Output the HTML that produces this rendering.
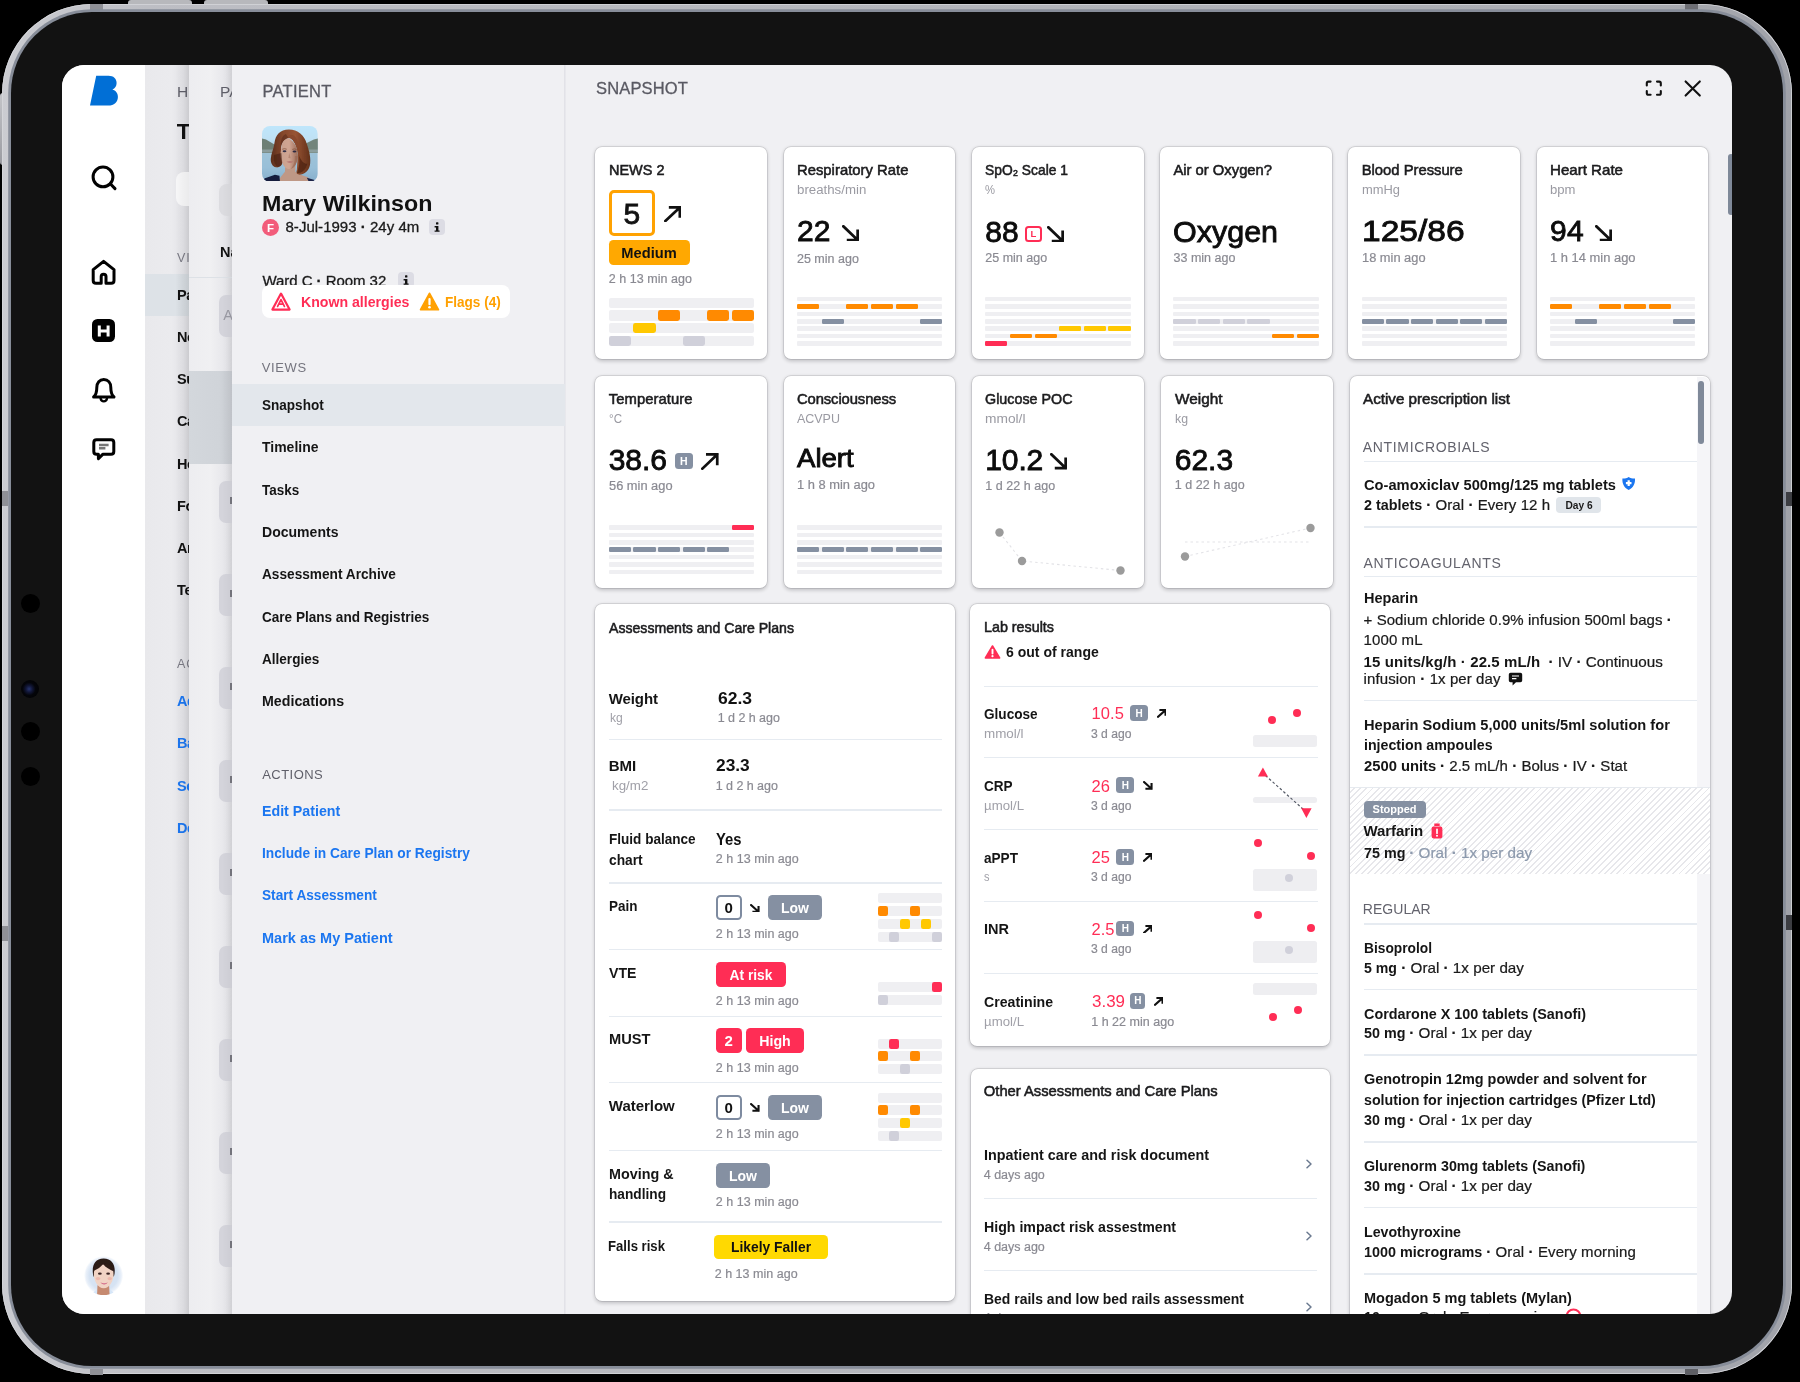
<!DOCTYPE html>
<html><head><meta charset="utf-8"><title>Snapshot</title><style>
html,body{margin:0;padding:0;background:#000;}
body{width:1800px;height:1382px;position:relative;overflow:hidden;font-family:"Liberation Sans",sans-serif;color:#111;}
div,svg{position:absolute;box-sizing:border-box;}
.t{white-space:nowrap;opacity:.999;}
.card{background:#fff;border-radius:7px;box-shadow:0 0 0 .7px rgba(20,20,25,.12),0 1.5px 4px rgba(15,15,20,.23);}
</style></head><body>
<div style="left:128px;top:0;width:64px;height:8px;background:#b7b8bc;border-radius:3px 3px 0 0"></div>
<div style="left:204px;top:0;width:64px;height:8px;background:#b7b8bc;border-radius:3px 3px 0 0"></div>
<div style="left:0;top:93px;width:6px;height:72px;background:linear-gradient(#c4c5c9,#9a9ba1);border-radius:3px 0 0 3px"></div>
<div style="left:2px;top:4.2px;width:1789.8px;height:1370.3px;border-radius:90px;background:linear-gradient(90deg,#cbccd1 0%,#bdbec4 8%,#b3b5bb 50%,#a9abb1 92%,#a0a2a9 100%);box-shadow:inset 0 0 0 .8px #d6d7db"></div>
<div style="left:90px;top:4.2px;width:13px;height:5.5px;background:#8f9096"></div>
<div style="left:1685px;top:4.2px;width:13px;height:5.5px;background:#6d6e74"></div>
<div style="left:90px;top:1369px;width:13px;height:5.5px;background:#8f9096"></div>
<div style="left:1685px;top:1369px;width:13px;height:5.5px;background:#5e5f65"></div>
<div style="left:2px;top:491.2px;width:6.2px;height:14.4px;background:#8f9096"></div>
<div style="left:2px;top:926.4px;width:6.2px;height:14.5px;background:#8f9096"></div>
<div style="left:1786px;top:491.5px;width:5.8px;height:14.3px;background:#3c3d42"></div>
<div style="left:1786px;top:915px;width:5.8px;height:14.7px;background:#3c3d42"></div>
<div style="left:10.9px;top:11.700px;width:1772.3px;height:1354.5px;border-radius:81px;background:#121212;box-shadow:0 0 0 2.800px #878d99"></div>
<div style="left:20.5px;top:593.5px;width:19px;height:19px;border-radius:50%;background:#000"></div>
<div style="left:20.5px;top:722px;width:19px;height:19px;border-radius:50%;background:#000"></div>
<div style="left:20.5px;top:766.5px;width:19px;height:19px;border-radius:50%;background:#000"></div>
<div style="left:21px;top:679.6px;width:18px;height:18px;border-radius:50%;background:radial-gradient(circle at 45% 50%,#27346e 0,#111636 25%,#04050a 48%,#000 100%)"></div>
<div id="screen" style="left:62px;top:65px;width:1670px;height:1249px;border-radius:22px;overflow:hidden;background:#f0f0f3"><div style="left:-62px;top:-65px;width:1800px;height:1382px;opacity:.999">
<div style="left:62px;top:65px;width:83px;height:1249px;background:#fff;"></div>
<svg style="left:88px;top:74px" width="32" height="34" viewBox="0 0 32 34"><path fill="#006fd6" d="M8.2 1.8 H20.5 C25.4 1.8 28.6 4.6 28.6 8.9 C28.6 12 27 14.4 24.4 15.6 C27.8 16.6 29.9 19.3 29.9 23 C29.9 28.2 26 31.6 20.3 31.6 H2 Z"/></svg>
<svg style="left:88px;top:162px" width="32" height="32" viewBox="0 0 32 32" fill="none" stroke="#000" stroke-width="3" stroke-linecap="round"><circle cx="15" cy="14.9" r="9.9"/><path d="M22.3 21.8 L27 26.6"/></svg>
<svg style="left:88px;top:256px" width="32" height="32" viewBox="0 0 32 32" fill="none" stroke="#000" stroke-width="3" stroke-linejoin="round" stroke-linecap="round"><path d="M13.2 27.2 H8 Q5.2 27.2 5.2 24.4 V13.6 L15.6 5.4 L26 13.6 V24.4 Q26 27.2 23.2 27.2 H18 V20.6 Q18 18.2 15.6 18.2 Q13.2 18.2 13.2 20.6 Z"/></svg>
<div style="left:92px;top:319.2px;width:23.4px;height:23.2px;background:#000;border-radius:5.5px;"></div>
<svg style="left:92px;top:319.2px" width="23.4" height="23.2" viewBox="0 0 23.4 23.2" fill="none" stroke="#fff" stroke-width="3"><path d="M7.3 6.4 V17.5 M16.1 6.4 V17.5 M7.3 12 H16.1"/></svg>
<svg style="left:88px;top:374px" width="32" height="32" viewBox="0 0 32 32" fill="none" stroke="#000" stroke-width="3" stroke-linejoin="round" stroke-linecap="round"><path d="M5.6 23 C8.6 20.6 8.8 17.6 8.8 13.6 C8.8 8.6 11.6 5.6 15.8 5.6 C20 5.6 22.8 8.6 22.8 13.6 C22.8 17.6 23 20.6 26 23 Z"/><path d="M12.6 24.6 C13 26.4 14.2 27.4 15.8 27.4 C17.4 27.4 18.6 26.4 19 24.6" stroke-width="2.4"/></svg>
<svg style="left:88px;top:434px" width="32" height="32" viewBox="0 0 32 32" fill="none" stroke="#000" stroke-width="3" stroke-linejoin="round"><path d="M8.6 5.8 H23 Q25.8 5.8 25.8 8.6 V17.4 Q25.8 20.2 23 20.2 H15 L10.4 24.6 V20.2 H8.6 Q5.8 20.2 5.8 17.4 V8.6 Q5.8 5.8 8.6 5.8 Z"/><path d="M11 11 H20.6 M11 14.2 H17.4" stroke="#777" stroke-width="2.6"/></svg>
<svg style="left:84.4px;top:1256.1px" width="39.2" height="39.2" viewBox="0 0 39 39">
<defs><clipPath id="uc"><circle cx="19.500" cy="19.500" r="19.500"/></clipPath>
<radialGradient id="ubg" cx=".5" cy=".5" r=".5"><stop offset="0" stop-color="#d3e2f3"/><stop offset=".72" stop-color="#d6e3f3"/><stop offset=".9" stop-color="#e9f0f9"/><stop offset="1" stop-color="#fff"/></radialGradient>
<filter id="ub" x="-10%" y="-10%" width="120%" height="120%"><feGaussianBlur stdDeviation=".75"/></filter></defs>
<g clip-path="url(#uc)"><rect width="39" height="39" fill="url(#ubg)"/>
<g filter="url(#ub)">
<path d="M6 39 L13 33 L26 33 L32 39 Z" fill="#d6e6f8"/>
<path d="M13.400 29 L13 39 L25.500 39 L25 29 Z" fill="#c68a70"/>
<path d="M19.500 2.400 C12 2.400 8.700 8 8.700 14 C8.700 17 9 19 9.800 21 L12 14 L27.500 14 L29.500 21 C30.300 19 30.600 17 30.600 14 C30.600 8 27 2.400 19.500 2.400 Z" fill="#2a1a18"/>
<path d="M9.800 18 C9.800 11 14 8.500 19.600 8.500 C25.500 8.500 29.400 11 29.400 18 C29.400 25 25.500 32.200 19.600 32.200 C13.800 32.200 9.800 25 9.800 18 Z" fill="#f1d3c4"/>
<path d="M9.300 15 C10 9.500 14 6.500 19 8 C17 11 13.500 13 9.300 15 Z M19 8 C24 6.500 29 9.500 29.800 15.500 C25.500 13.500 21.500 11.500 19 8 Z" fill="#2e1c19"/>
<ellipse cx="15.800" cy="17.600" rx="1.900" ry="1.100" fill="#3a2424"/><ellipse cx="24" cy="17.600" rx="1.900" ry="1.100" fill="#3a2424"/>
<ellipse cx="14" cy="22.500" rx="2.200" ry="1.600" fill="#ecb3a8" opacity=".8"/><ellipse cx="25.600" cy="22.500" rx="2.200" ry="1.600" fill="#ecb3a8" opacity=".8"/>
<path d="M16.300 26.300 Q20 27.300 23.800 26.300 Q20 30.300 16.300 26.300 Z" fill="#cf5f7c"/>
<path d="M17.600 26.900 Q20 27.400 22.500 26.900 Q20 28 17.600 26.900 Z" fill="#fbeef0"/>
</g></g></svg>
<div class="p1" style="left:145px;top:65px;width:44px;height:1249px;background:linear-gradient(90deg,#e9e9ec 0,#ebebee 60%,#e2e2e6 88%,#d6d6da 100%);overflow:hidden;"></div>
<div style="left:145px;top:273.9px;width:44px;height:42.2px;background:linear-gradient(90deg,#dde2e7 0,#dde2e7 70%,#cfd4d9 100%);"></div>
<div style="left:176px;top:171.7px;width:30px;height:34px;background:#f7f7f8;border-radius:8px;"></div>
<div style="left:145px;top:65px;width:44px;height:1249px;overflow:hidden"><div style="left:-145px;top:-65px;width:400px;height:1382px">
<div class="t" style="left:177px;top:82.43px;font-size:15.5px;line-height:20px;color:#5f5f69;">HOME</div>
<div class="t" style="left:176.7px;top:116.6px;font-size:22.5px;line-height:29px;font-weight:700;">Today</div>
<div class="t" style="left:177px;top:250.27px;font-size:12.5px;line-height:16px;color:#7a7a84;letter-spacing:1px;">VIEWS</div>
<div class="t" style="left:177px;top:285.78px;font-size:14.5px;line-height:19px;font-weight:700;letter-spacing:-.4px;">Patients</div>
<div class="t" style="left:177px;top:327.98px;font-size:14.5px;line-height:19px;font-weight:700;letter-spacing:-.4px;">Notes</div>
<div class="t" style="left:177px;top:370.18px;font-size:14.5px;line-height:19px;font-weight:700;letter-spacing:-.4px;">Summary</div>
<div class="t" style="left:177px;top:412.38px;font-size:14.5px;line-height:19px;font-weight:700;letter-spacing:-.4px;">Care</div>
<div class="t" style="left:177px;top:454.58px;font-size:14.5px;line-height:19px;font-weight:700;letter-spacing:-.4px;">Home</div>
<div class="t" style="left:177px;top:496.78px;font-size:14.5px;line-height:19px;font-weight:700;letter-spacing:-.4px;">Forms</div>
<div class="t" style="left:177px;top:538.98px;font-size:14.5px;line-height:19px;font-weight:700;letter-spacing:-.4px;">Archive</div>
<div class="t" style="left:177px;top:581.18px;font-size:14.5px;line-height:19px;font-weight:700;letter-spacing:-.4px;">Team</div>
<div class="t" style="left:177px;top:655.67px;font-size:12.5px;line-height:16px;color:#7a7a84;letter-spacing:1px;">ACTIONS</div>
<div class="t" style="left:177px;top:691.98px;font-size:14.5px;line-height:19px;font-weight:700;color:#1b76f0;letter-spacing:-.4px;">Add</div>
<div class="t" style="left:177px;top:734.28px;font-size:14.5px;line-height:19px;font-weight:700;color:#1b76f0;letter-spacing:-.4px;">Bar</div>
<div class="t" style="left:177px;top:776.58px;font-size:14.5px;line-height:19px;font-weight:700;color:#1b76f0;letter-spacing:-.4px;">Sea</div>
<div class="t" style="left:177px;top:818.88px;font-size:14.5px;line-height:19px;font-weight:700;color:#1b76f0;letter-spacing:-.4px;">Del</div>
</div></div>
<div style="left:175px;top:65px;width:14px;height:1249px;background:linear-gradient(90deg,rgba(0,0,0,0),rgba(0,0,0,.05));"></div>
<div style="left:189px;top:65px;width:43px;height:1249px;background:linear-gradient(90deg,#ededf0 0,#f0f0f2 50%,#e6e6ea 86%,#d8d8dc 100%);"></div>
<div style="left:189px;top:277.2px;width:43px;height:1px;background:#dde1e6;"></div>
<div style="left:189px;top:371px;width:43px;height:93px;background:linear-gradient(90deg,#d3d7dc 0,#d0d4d9 70%,#c6c9cf 100%);"></div>
<div style="left:189px;top:65px;width:43px;height:1249px;overflow:hidden"><div style="left:-189px;top:-65px;width:400px;height:1382px">
<div class="t" style="left:220px;top:82.43px;font-size:15.5px;line-height:20px;color:#5f5f69;">PATIENTS</div>
<div class="t" style="left:220px;top:243.28px;font-size:14.5px;line-height:19px;font-weight:700;">Name</div>
<div style="left:219.4px;top:184.4px;width:30px;height:32px;background:#dcdce0;border-radius:8px;"></div>
<div style="left:219.4px;top:295px;width:30px;height:42px;background:#d4d4db;border-radius:7px;"></div>
<div class="t" style="left:223.3px;top:306.48px;font-size:14.5px;line-height:19px;color:#9a9aa4;">A</div>
<div style="left:219.4px;top:481px;width:30px;height:42px;background:#d4d4db;border-radius:7px;"></div>
<div style="left:230.2px;top:497px;width:1.8px;height:7px;background:#77777f;"></div>
<div style="left:219.4px;top:574px;width:30px;height:42px;background:#d4d4db;border-radius:7px;"></div>
<div style="left:230.2px;top:590px;width:1.8px;height:7px;background:#77777f;"></div>
<div style="left:219.4px;top:667px;width:30px;height:42px;background:#d4d4db;border-radius:7px;"></div>
<div style="left:230.2px;top:683px;width:1.8px;height:7px;background:#77777f;"></div>
<div style="left:219.4px;top:760px;width:30px;height:42px;background:#d4d4db;border-radius:7px;"></div>
<div style="left:230.2px;top:776px;width:1.8px;height:7px;background:#77777f;"></div>
<div style="left:219.4px;top:853px;width:30px;height:42px;background:#d4d4db;border-radius:7px;"></div>
<div style="left:230.2px;top:869px;width:1.8px;height:7px;background:#77777f;"></div>
<div style="left:219.4px;top:946px;width:30px;height:42px;background:#d4d4db;border-radius:7px;"></div>
<div style="left:230.2px;top:962px;width:1.8px;height:7px;background:#77777f;"></div>
<div style="left:219.4px;top:1039px;width:30px;height:42px;background:#d4d4db;border-radius:7px;"></div>
<div style="left:230.2px;top:1055px;width:1.8px;height:7px;background:#77777f;"></div>
<div style="left:219.4px;top:1132px;width:30px;height:42px;background:#d4d4db;border-radius:7px;"></div>
<div style="left:230.2px;top:1148px;width:1.8px;height:7px;background:#77777f;"></div>
<div style="left:219.4px;top:1225px;width:30px;height:42px;background:#d4d4db;border-radius:7px;"></div>
<div style="left:230.2px;top:1241px;width:1.8px;height:7px;background:#77777f;"></div>
</div></div>
<div style="left:222px;top:65px;width:10px;height:1249px;background:linear-gradient(90deg,rgba(0,0,0,0),rgba(0,0,0,.035));"></div>
<div style="left:232px;top:65px;width:333px;height:1249px;background:#f0f0f3;"></div>
<div style="left:564.3px;top:65px;width:2.1px;height:1249px;background:linear-gradient(90deg,#e4e4e9,#e0e0e6 60%,#f5f5f7);"></div>
<div class="t" style="left:262.5px;top:81.48px;font-size:16.5px;line-height:21px;color:#595962;letter-spacing:0.25px;-webkit-text-stroke:0.3px currentColor;">PATIENT</div>
<svg style="left:262.1px;top:125.6px" width="55.8" height="55.8" viewBox="0 0 56 56">
<defs><clipPath id="pc"><rect width="56" height="56" rx="8"/></clipPath>
<linearGradient id="psky" x1="0" y1="0" x2="0" y2="1"><stop offset="0" stop-color="#bfe6fb"/><stop offset=".24" stop-color="#bfe1f4"/><stop offset=".46" stop-color="#9fc3d8"/><stop offset=".75" stop-color="#98bfd8"/><stop offset="1" stop-color="#86aecb"/></linearGradient>
<linearGradient id="phair" x1="0" y1="0" x2="1" y2="0"><stop offset="0" stop-color="#5c2e1c"/><stop offset=".3" stop-color="#84472c"/><stop offset=".62" stop-color="#985434"/><stop offset="1" stop-color="#62301a"/></linearGradient>
<linearGradient id="pface" x1="0" y1="0" x2="1" y2="0"><stop offset="0" stop-color="#c9a08e"/><stop offset=".5" stop-color="#d0a592"/><stop offset="1" stop-color="#9c6b58"/></linearGradient>
<filter id="pb" x="-10%" y="-10%" width="120%" height="120%"><feGaussianBlur stdDeviation=".7"/></filter></defs>
<g clip-path="url(#pc)"><rect width="56" height="56" fill="url(#psky)"/>
<g filter="url(#pb)">
<path d="M-2 12 L4 13.500 L15 20 L15 27 L-2 27 Z" fill="#6e7f75"/>
<path d="M58 12 L52 13.500 L43 18 L43 27 L58 27 Z" fill="#73857b"/>
<path d="M-2 23.500 H58 V26.500 H-2 Z" fill="#93a5a8" opacity=".8"/>
<path d="M23.500 38 L23 46 C21 49 18 51 16.500 56 L50 56 L46 51.500 C41 49.500 35.500 48.500 33.500 46 L33.500 38 Z" fill="#bf9886"/>
<path d="M-2 56 L3 52.500 L13 49 L17.500 50 L18 56 Z" fill="#121b3c"/>
<path d="M45 52 L52 54 L54 56 L47 56 Z" fill="#1a2446"/>
<path d="M27 3.600 C18 3.600 13.500 9.500 12.500 17 C11.800 23 9 28 8.800 33 C8.600 37 10.500 40.500 14 41.500 C17.500 42 20 40 20.500 37 L19 22 C20 15 24 12 29 11.500 C33 16 35.500 21 36 28 L35 44 C34 46.500 34.500 48.500 37 48.800 C42 49 46.500 46 48 40 C49.500 33 47.500 25 45 18 C42.500 9.500 36 3.600 27 3.600 Z" fill="url(#phair)"/>
<path d="M19.200 23 C19.500 16 22.500 13 26.500 12 C31 14.500 35.500 20 36 29 C36 36 33 43.200 27.500 43.200 C22 43.200 18.500 35 18.500 28 Z" fill="url(#pface)"/>
<path d="M26.500 12 C30 12 34 17 36.200 27 C38 22 37 14 32 9.500 C29 8.500 26 9.500 24.500 11.500 Z" fill="#8a4a2d"/>
<path d="M36 26 C38 31 38.500 38 35 47.500 C40 48 44 44 45.500 38 C41 38 38 33 36 26 Z" fill="#4e2313" opacity=".75"/>
<path d="M12 29 C11.500 35 12.500 39 15.500 40.800 C18 41.200 19.800 39.500 20.300 37 L19.400 27 Z" fill="#4a2214" opacity=".65"/>
<path d="M24 8 C20 9.500 18.500 14 18.800 22 C20 16 22.500 13 26.500 12 Z" fill="#5a2c1a" opacity=".6"/>
<ellipse cx="22.600" cy="25.300" rx="1.900" ry="1" fill="#34304a"/><ellipse cx="32.600" cy="25.500" rx="1.900" ry="1" fill="#2f2a40"/>
<path d="M20.300 23.300 Q22.600 22.300 24.800 23.300 M30.400 23.500 Q32.600 22.500 34.600 23.500" stroke="#7a4a36" stroke-width=".7" fill="none"/>
<path d="M27.300 27 L26.500 32 L28.800 32.300 Z" fill="#b0826f" opacity=".85"/>
<path d="M24.600 35.800 Q28 34.800 31.400 35.800 Q28 37.800 24.600 35.800 Z" fill="#b26d6d"/>
<path d="M33 30 C33.500 35 32 40 28.500 43 C32.500 42.500 35.500 37 36 30 Z" fill="#9a6854" opacity=".6"/>
</g></g></svg>
<div class="t" style="left:262px;top:188.5px;font-size:22.5px;line-height:29px;font-weight:700;transform-origin:0 50%;transform:scaleX(1.034);">Mary Wilkinson</div>
<div style="left:262px;top:219px;width:17px;height:17px;background:#f25c7a;border-radius:9px;"></div>
<div class="t" style="left:270.5px;top:220.72px;font-size:11.5px;line-height:15px;font-weight:700;color:#fff;transform:translateX(-50%);">F</div>
<div class="t" style="left:285.5px;top:217.3px;font-size:15px;line-height:20px;color:#1a1a1a;letter-spacing:0.02px;-webkit-text-stroke:0.3px currentColor;">8-Jul-1993 <b>·</b> 24y 4m</div>
<div style="left:429.2px;top:219.2px;width:16px;height:16px;background:#dcdce4;border-radius:4px;"></div>
<svg style="left:429.2px;top:219.2px" width="16" height="16" viewBox="0 0 16 16" fill="#111"><rect x="7" y="3.2" width="2.4" height="2.4" rx=".6"/><path d="M5.6 7 H9.4 V11.4 H10.6 V12.8 H5.6 V11.4 H7 V8.4 H5.6 Z"/></svg>
<div class="t" style="left:262.5px;top:270.6px;font-size:15px;line-height:20px;color:#1a1a1a;letter-spacing:-0.05px;-webkit-text-stroke:0.3px currentColor;">Ward C <b>·</b> Room 32</div>
<div style="left:397.5px;top:271.7px;width:16px;height:16px;background:#dcdce4;border-radius:4px;"></div>
<svg style="left:397.5px;top:271.7px" width="16" height="16" viewBox="0 0 16 16" fill="#111"><rect x="7" y="3.2" width="2.4" height="2.4" rx=".6"/><path d="M5.6 7 H9.4 V11.4 H10.6 V12.8 H5.6 V11.4 H7 V8.4 H5.6 Z"/></svg>
<div style="left:262px;top:284.6px;width:248px;height:33px;background:#fff;border-radius:8px;"></div>
<svg style="left:270px;top:291px" width="22" height="21" viewBox="0 0 22 21" fill="none" stroke="#ff2d55" stroke-width="2.2" stroke-linejoin="round"><path d="M11 2.6 L19.6 18.6 H2.4 Z"/><path d="M7.6 15.4 L11 8.6 L14.4 15.4 M8.9 13.2 H13.1" stroke-width="1.7" stroke-linecap="round"/></svg>
<div class="t" style="left:300.9px;top:292.3px;font-size:15px;line-height:20px;font-weight:700;color:#ff2d55;transform-origin:0 50%;transform:scaleX(0.942);">Known allergies</div>
<svg style="left:419px;top:290.5px" width="21" height="21" viewBox="0 0 21 21"><path d="M10.5 2.4 L19.4 18.6 H1.6 Z" fill="#ffa000" stroke="#ffa000" stroke-width="1.8" stroke-linejoin="round"/><path d="M10.5 8 V13.2" stroke="#fff" stroke-width="2.2" stroke-linecap="round"/><circle cx="10.5" cy="16.2" r="1.3" fill="#fff"/></svg>
<div class="t" style="left:445.3px;top:292.3px;font-size:15px;line-height:20px;font-weight:700;color:#ffa000;transform-origin:0 50%;transform:scaleX(0.903);">Flags (4)</div>
<div class="t" style="left:261.8px;top:359.4px;font-size:13px;line-height:17px;color:#74747e;letter-spacing:0.62px;">VIEWS</div>
<div style="left:232px;top:383.6px;width:333px;height:42px;background:#e3e7ec;"></div>
<div class="t" style="left:262px;top:395.1px;font-size:15px;line-height:20px;font-weight:700;color:#151515;transform-origin:0 50%;transform:scaleX(0.903);">Snapshot</div>
<div class="t" style="left:262px;top:437.4px;font-size:15px;line-height:20px;font-weight:700;color:#151515;transform-origin:0 50%;transform:scaleX(0.932);">Timeline</div>
<div class="t" style="left:262px;top:479.7px;font-size:15px;line-height:20px;font-weight:700;color:#151515;transform-origin:0 50%;transform:scaleX(0.898);">Tasks</div>
<div class="t" style="left:262px;top:522px;font-size:15px;line-height:20px;font-weight:700;color:#151515;transform-origin:0 50%;transform:scaleX(0.936);">Documents</div>
<div class="t" style="left:262px;top:564.3px;font-size:15px;line-height:20px;font-weight:700;color:#151515;transform-origin:0 50%;transform:scaleX(0.911);">Assessment Archive</div>
<div class="t" style="left:262px;top:606.6px;font-size:15px;line-height:20px;font-weight:700;color:#151515;transform-origin:0 50%;transform:scaleX(0.904);">Care Plans and Registries</div>
<div class="t" style="left:262px;top:648.9px;font-size:15px;line-height:20px;font-weight:700;color:#151515;transform-origin:0 50%;transform:scaleX(0.904);">Allergies</div>
<div class="t" style="left:262px;top:691.2px;font-size:15px;line-height:20px;font-weight:700;color:#151515;transform-origin:0 50%;transform:scaleX(0.948);">Medications</div>
<div class="t" style="left:262.2px;top:765.6px;font-size:13px;line-height:17px;color:#5f5f69;letter-spacing:0.46px;">ACTIONS</div>
<div class="t" style="left:262.2px;top:800.8px;font-size:15px;line-height:20px;font-weight:700;color:#1b76f0;transform-origin:0 50%;transform:scaleX(0.948);">Edit Patient</div>
<div class="t" style="left:262.2px;top:843.1px;font-size:15px;line-height:20px;font-weight:700;color:#1b76f0;transform-origin:0 50%;transform:scaleX(0.917);">Include in Care Plan or Registry</div>
<div class="t" style="left:262.2px;top:885.4px;font-size:15px;line-height:20px;font-weight:700;color:#1b76f0;transform-origin:0 50%;transform:scaleX(0.91);">Start Assessment</div>
<div class="t" style="left:262.2px;top:927.7px;font-size:15px;line-height:20px;font-weight:700;color:#1b76f0;transform-origin:0 50%;transform:scaleX(0.967);">Mark as My Patient</div>
<div class="t" style="left:596px;top:78.18px;font-size:16.5px;line-height:21px;color:#595962;letter-spacing:0.15px;-webkit-text-stroke:0.3px currentColor;">SNAPSHOT</div>
<svg style="left:1644px;top:79px" width="20" height="19" viewBox="0 0 20 19" fill="none" stroke="#111" stroke-width="2.1" stroke-linecap="round" stroke-linejoin="round"><path d="M2.8 6.4 V4.2 Q2.8 2.6 4.4 2.6 H6.6 M13 2.6 H15.2 Q16.8 2.6 16.8 4.2 V6.4 M16.8 12 V14.2 Q16.8 15.8 15.2 15.8 H13 M6.6 15.8 H4.4 Q2.8 15.8 2.8 14.2 V12"/></svg>
<svg style="left:1683px;top:79px" width="19" height="19" viewBox="0 0 19 19" fill="none" stroke="#111" stroke-width="2.1" stroke-linecap="round"><path d="M2.6 2.4 L16.8 16.6 M16.8 2.4 L2.6 16.6"/></svg>
<div style="left:1727.6px;top:154px;width:6px;height:61px;background:#7f8999;border-radius:3px;"></div>
<div class="card" style="left:595.4px;top:146.8px;width:171.6px;height:212px;"></div>
<div class="t" style="left:608.7px;top:161.17px;font-size:14.8px;line-height:19px;color:#1c1c1e;-webkit-text-stroke:0.55px currentColor;transform-origin:0 50%;transform:scaleX(0.978);">NEWS 2</div>
<div style="left:608.7px;top:189.8px;width:46.3px;height:46px;background:#fff;border-radius:5px;border:3.6px solid #ffa200;"></div>
<div class="t" style="left:631.8px;top:194.31px;font-size:30px;line-height:39px;-webkit-text-stroke:0.8px currentColor;transform:translateX(-50%);">5</div>
<svg style="left:664.2px;top:205.8px" width="17.2" height="16.4" viewBox="0 0 17.2 16.4" fill="none" stroke="#111" stroke-width="2.7" stroke-linecap="square" stroke-linejoin="miter"><path d="M1.35 15.05 L15.55 1.65 M6.19 1.35 H15.85 V10.5"/></svg>
<div style="left:608.7px;top:240.3px;width:81px;height:25px;background:#ffa800;border-radius:4.5px;"></div>
<div class="t" style="left:649.2px;top:243.1px;font-size:15px;line-height:20px;font-weight:700;transform:translateX(-50%) scaleX(0.978);">Medium</div>
<div class="t" style="left:608.7px;top:270.67px;font-size:12.5px;line-height:16px;color:#8a8a92;letter-spacing:0.04px;-webkit-text-stroke:0.2px currentColor;">2 h 13 min ago</div>
<div style="left:608.7px;top:297.5px;width:145.4px;height:10.4px;background:#efeff2;border-radius:2px;"></div>
<div style="left:608.7px;top:310.25px;width:145.4px;height:10.4px;background:#efeff2;border-radius:2px;"></div>
<div style="left:657.98px;top:310.25px;width:22.2px;height:10.4px;background:#ff8a00;border-radius:2.4px;"></div>
<div style="left:707.26px;top:310.25px;width:22.2px;height:10.4px;background:#ff8a00;border-radius:2.4px;"></div>
<div style="left:731.9px;top:310.25px;width:22.2px;height:10.4px;background:#ff8a00;border-radius:2.4px;"></div>
<div style="left:608.7px;top:323px;width:145.4px;height:10.4px;background:#efeff2;border-radius:2px;"></div>
<div style="left:633.34px;top:323px;width:22.2px;height:10.4px;background:#ffc800;border-radius:2.4px;"></div>
<div style="left:608.7px;top:335.75px;width:145.4px;height:10.4px;background:#efeff2;border-radius:2px;"></div>
<div style="left:608.7px;top:335.75px;width:22.2px;height:10.4px;background:#d0d0da;border-radius:2.4px;"></div>
<div style="left:682.62px;top:335.75px;width:22.2px;height:10.4px;background:#d0d0da;border-radius:2.4px;"></div>
<div class="card" style="left:783.66px;top:146.8px;width:171.6px;height:212px;"></div>
<div class="t" style="left:796.96px;top:161.17px;font-size:14.8px;line-height:19px;color:#1c1c1e;letter-spacing:0.03px;-webkit-text-stroke:0.55px currentColor;">Respiratory Rate</div>
<div class="t" style="left:796.96px;top:182.07px;font-size:12.5px;line-height:16px;color:#9a9aa2;transform-origin:0 50%;transform:scaleX(1.061);">breaths/min</div>
<div class="t" style="left:796.96px;top:211.41px;font-size:30px;line-height:39px;color:#0c0c0c;letter-spacing:0.21px;-webkit-text-stroke:0.85px currentColor;">22</div>
<div class="t" style="left:796.96px;top:250.97px;font-size:12.5px;line-height:16px;color:#8a8a92;letter-spacing:0.01px;-webkit-text-stroke:0.2px currentColor;">25 min ago</div>
<svg style="left:842.06px;top:225px" width="17" height="16.4" viewBox="0 0 17 16.4" fill="none" stroke="#111" stroke-width="2.7" stroke-linecap="square" stroke-linejoin="miter"><path d="M1.35 1.35 L15.35 14.75 M6.12 15.05 H15.65 V5.9"/></svg>
<div style="left:796.96px;top:296.8px;width:145.4px;height:4.6px;background:#efeff2;border-radius:1px;"></div>
<div style="left:796.96px;top:304.22px;width:145.4px;height:4.6px;background:#efeff2;border-radius:1px;"></div>
<div style="left:796.96px;top:304.22px;width:22.2px;height:4.6px;background:#ff8a00;border-radius:1.2px;"></div>
<div style="left:846.24px;top:304.22px;width:22.2px;height:4.6px;background:#ff8a00;border-radius:1.2px;"></div>
<div style="left:870.88px;top:304.22px;width:22.2px;height:4.6px;background:#ff8a00;border-radius:1.2px;"></div>
<div style="left:895.52px;top:304.22px;width:22.2px;height:4.6px;background:#ff8a00;border-radius:1.2px;"></div>
<div style="left:796.96px;top:311.64px;width:145.4px;height:4.6px;background:#efeff2;border-radius:1px;"></div>
<div style="left:796.96px;top:319.06px;width:145.4px;height:4.6px;background:#efeff2;border-radius:1px;"></div>
<div style="left:821.6px;top:319.06px;width:22.2px;height:4.6px;background:#8590a2;border-radius:1.2px;"></div>
<div style="left:920.16px;top:319.06px;width:22.2px;height:4.6px;background:#8590a2;border-radius:1.2px;"></div>
<div style="left:796.96px;top:326.48px;width:145.4px;height:4.6px;background:#efeff2;border-radius:1px;"></div>
<div style="left:796.96px;top:333.9px;width:145.4px;height:4.6px;background:#efeff2;border-radius:1px;"></div>
<div style="left:796.96px;top:341.32px;width:145.4px;height:4.6px;background:#efeff2;border-radius:1px;"></div>
<div class="card" style="left:971.92px;top:146.8px;width:171.6px;height:212px;"></div>
<div class="t" style="left:985.22px;top:161.17px;font-size:14.8px;line-height:19px;color:#1c1c1e;-webkit-text-stroke:0.55px currentColor;transform-origin:0 50%;transform:scaleX(0.934);">SpO₂ Scale 1</div>
<div class="t" style="left:985.22px;top:182.07px;font-size:12.5px;line-height:16px;color:#9a9aa2;transform-origin:0 50%;transform:scaleX(0.899);">%</div>
<div class="t" style="left:985.22px;top:212.1px;font-size:30px;line-height:39px;color:#0c0c0c;letter-spacing:0.21px;-webkit-text-stroke:0.85px currentColor;">88</div>
<div class="t" style="left:985.22px;top:250.27px;font-size:12.5px;line-height:16px;color:#8a8a92;letter-spacing:0.01px;-webkit-text-stroke:0.2px currentColor;">25 min ago</div>
<div style="left:1024.92px;top:225.8px;width:17px;height:16.7px;background:#fff;border-radius:3.5px;border:2px solid #ff2d55;"></div>
<div class="t" style="left:1033.42px;top:228.26px;font-size:9.5px;line-height:12px;font-weight:700;color:#ff2d55;transform:translateX(-50%);">L</div>
<svg style="left:1046.92px;top:225.8px" width="17" height="16.4" viewBox="0 0 17 16.4" fill="none" stroke="#111" stroke-width="2.7" stroke-linecap="square" stroke-linejoin="miter"><path d="M1.35 1.35 L15.35 14.75 M6.12 15.05 H15.65 V5.9"/></svg>
<div style="left:985.22px;top:296.8px;width:145.4px;height:4.6px;background:#efeff2;border-radius:1px;"></div>
<div style="left:985.22px;top:304.22px;width:145.4px;height:4.6px;background:#efeff2;border-radius:1px;"></div>
<div style="left:985.22px;top:311.64px;width:145.4px;height:4.6px;background:#efeff2;border-radius:1px;"></div>
<div style="left:985.22px;top:319.06px;width:145.4px;height:4.6px;background:#efeff2;border-radius:1px;"></div>
<div style="left:985.22px;top:326.48px;width:145.4px;height:4.6px;background:#efeff2;border-radius:1px;"></div>
<div style="left:1059.14px;top:326.48px;width:22.2px;height:4.6px;background:#ffc800;border-radius:1.2px;"></div>
<div style="left:1083.78px;top:326.48px;width:22.2px;height:4.6px;background:#ffc800;border-radius:1.2px;"></div>
<div style="left:1108.42px;top:326.48px;width:22.2px;height:4.6px;background:#ffc800;border-radius:1.2px;"></div>
<div style="left:985.22px;top:333.9px;width:145.4px;height:4.6px;background:#efeff2;border-radius:1px;"></div>
<div style="left:1009.86px;top:333.9px;width:22.2px;height:4.6px;background:#ff8a00;border-radius:1.2px;"></div>
<div style="left:1034.5px;top:333.9px;width:22.2px;height:4.6px;background:#ff8a00;border-radius:1.2px;"></div>
<div style="left:985.22px;top:341.32px;width:145.4px;height:4.6px;background:#efeff2;border-radius:1px;"></div>
<div style="left:985.22px;top:341.32px;width:22.2px;height:4.6px;background:#ff2d55;border-radius:1.2px;"></div>
<div class="card" style="left:1160.18px;top:146.8px;width:171.6px;height:212px;"></div>
<div class="t" style="left:1173.48px;top:161.17px;font-size:14.8px;line-height:19px;color:#1c1c1e;letter-spacing:-0.01px;-webkit-text-stroke:0.55px currentColor;">Air or Oxygen?</div>
<div class="t" style="left:1173.48px;top:211.71px;font-size:30px;line-height:39px;color:#0c0c0c;-webkit-text-stroke:0.85px currentColor;transform-origin:0 50%;transform:scaleX(1.016);">Oxygen</div>
<div class="t" style="left:1173.48px;top:250.47px;font-size:12.5px;line-height:16px;color:#8a8a92;letter-spacing:0.01px;-webkit-text-stroke:0.2px currentColor;">33 min ago</div>
<div style="left:1173.48px;top:296.8px;width:145.4px;height:4.6px;background:#efeff2;border-radius:1px;"></div>
<div style="left:1173.48px;top:304.22px;width:145.4px;height:4.6px;background:#efeff2;border-radius:1px;"></div>
<div style="left:1173.48px;top:311.64px;width:145.4px;height:4.6px;background:#efeff2;border-radius:1px;"></div>
<div style="left:1173.48px;top:319.06px;width:145.4px;height:4.6px;background:#efeff2;border-radius:1px;"></div>
<div style="left:1173.48px;top:319.06px;width:22.2px;height:4.6px;background:#d0d0da;border-radius:1.2px;"></div>
<div style="left:1198.12px;top:319.06px;width:22.2px;height:4.6px;background:#d0d0da;border-radius:1.2px;"></div>
<div style="left:1222.76px;top:319.06px;width:22.2px;height:4.6px;background:#d0d0da;border-radius:1.2px;"></div>
<div style="left:1247.4px;top:319.06px;width:22.2px;height:4.6px;background:#d0d0da;border-radius:1.2px;"></div>
<div style="left:1173.48px;top:326.48px;width:145.4px;height:4.6px;background:#efeff2;border-radius:1px;"></div>
<div style="left:1173.48px;top:333.9px;width:145.4px;height:4.6px;background:#efeff2;border-radius:1px;"></div>
<div style="left:1272.04px;top:333.9px;width:22.2px;height:4.6px;background:#ff8a00;border-radius:1.2px;"></div>
<div style="left:1296.68px;top:333.9px;width:22.2px;height:4.6px;background:#ff8a00;border-radius:1.2px;"></div>
<div style="left:1173.48px;top:341.32px;width:145.4px;height:4.6px;background:#efeff2;border-radius:1px;"></div>
<div class="card" style="left:1348.44px;top:146.8px;width:171.6px;height:212px;"></div>
<div class="t" style="left:1361.74px;top:161.17px;font-size:14.8px;line-height:19px;color:#1c1c1e;letter-spacing:-0.01px;-webkit-text-stroke:0.55px currentColor;">Blood Pressure</div>
<div class="t" style="left:1361.74px;top:182.07px;font-size:12.5px;line-height:16px;color:#9a9aa2;transform-origin:0 50%;transform:scaleX(1.032);">mmHg</div>
<div class="t" style="left:1361.74px;top:211.41px;font-size:30px;line-height:39px;color:#0c0c0c;-webkit-text-stroke:0.85px currentColor;transform-origin:0 50%;transform:scaleX(1.118);">125/86</div>
<div class="t" style="left:1361.74px;top:250.47px;font-size:12.5px;line-height:16px;color:#8a8a92;-webkit-text-stroke:0.2px currentColor;transform-origin:0 50%;transform:scaleX(1.027);">18 min ago</div>
<div style="left:1361.74px;top:296.8px;width:145.4px;height:4.6px;background:#efeff2;border-radius:1px;"></div>
<div style="left:1361.74px;top:304.22px;width:145.4px;height:4.6px;background:#efeff2;border-radius:1px;"></div>
<div style="left:1361.74px;top:311.64px;width:145.4px;height:4.6px;background:#efeff2;border-radius:1px;"></div>
<div style="left:1361.74px;top:319.06px;width:145.4px;height:4.6px;background:#efeff2;border-radius:1px;"></div>
<div style="left:1361.74px;top:319.06px;width:22.2px;height:4.6px;background:#8590a2;border-radius:1.2px;"></div>
<div style="left:1386.38px;top:319.06px;width:22.2px;height:4.6px;background:#8590a2;border-radius:1.2px;"></div>
<div style="left:1411.02px;top:319.06px;width:22.2px;height:4.6px;background:#8590a2;border-radius:1.2px;"></div>
<div style="left:1435.66px;top:319.06px;width:22.2px;height:4.6px;background:#8590a2;border-radius:1.2px;"></div>
<div style="left:1460.3px;top:319.06px;width:22.2px;height:4.6px;background:#8590a2;border-radius:1.2px;"></div>
<div style="left:1484.94px;top:319.06px;width:22.2px;height:4.6px;background:#8590a2;border-radius:1.2px;"></div>
<div style="left:1361.74px;top:326.48px;width:145.4px;height:4.6px;background:#efeff2;border-radius:1px;"></div>
<div style="left:1361.74px;top:333.9px;width:145.4px;height:4.6px;background:#efeff2;border-radius:1px;"></div>
<div style="left:1361.74px;top:341.32px;width:145.4px;height:4.6px;background:#efeff2;border-radius:1px;"></div>
<div class="card" style="left:1536.7px;top:146.8px;width:171.6px;height:212px;"></div>
<div class="t" style="left:1550px;top:161.17px;font-size:14.8px;line-height:19px;color:#1c1c1e;-webkit-text-stroke:0.55px currentColor;transform-origin:0 50%;transform:scaleX(1.02);">Heart Rate</div>
<div class="t" style="left:1550px;top:182.07px;font-size:12.5px;line-height:16px;color:#9a9aa2;transform-origin:0 50%;transform:scaleX(1.048);">bpm</div>
<div class="t" style="left:1550px;top:211.41px;font-size:30px;line-height:39px;color:#0c0c0c;letter-spacing:0.21px;-webkit-text-stroke:0.85px currentColor;">94</div>
<div class="t" style="left:1550px;top:250.47px;font-size:12.5px;line-height:16px;color:#8a8a92;-webkit-text-stroke:0.2px currentColor;transform-origin:0 50%;transform:scaleX(1.034);">1 h 14 min ago</div>
<svg style="left:1595.1px;top:225px" width="17" height="16.4" viewBox="0 0 17 16.4" fill="none" stroke="#111" stroke-width="2.7" stroke-linecap="square" stroke-linejoin="miter"><path d="M1.35 1.35 L15.35 14.75 M6.12 15.05 H15.65 V5.9"/></svg>
<div style="left:1550px;top:296.8px;width:145.4px;height:4.6px;background:#efeff2;border-radius:1px;"></div>
<div style="left:1550px;top:304.22px;width:145.4px;height:4.6px;background:#efeff2;border-radius:1px;"></div>
<div style="left:1550px;top:304.22px;width:22.2px;height:4.6px;background:#ff8a00;border-radius:1.2px;"></div>
<div style="left:1599.28px;top:304.22px;width:22.2px;height:4.6px;background:#ff8a00;border-radius:1.2px;"></div>
<div style="left:1623.92px;top:304.22px;width:22.2px;height:4.6px;background:#ff8a00;border-radius:1.2px;"></div>
<div style="left:1648.56px;top:304.22px;width:22.2px;height:4.6px;background:#ff8a00;border-radius:1.2px;"></div>
<div style="left:1550px;top:311.64px;width:145.4px;height:4.6px;background:#efeff2;border-radius:1px;"></div>
<div style="left:1550px;top:319.06px;width:145.4px;height:4.6px;background:#efeff2;border-radius:1px;"></div>
<div style="left:1574.64px;top:319.06px;width:22.2px;height:4.6px;background:#8590a2;border-radius:1.2px;"></div>
<div style="left:1673.2px;top:319.06px;width:22.2px;height:4.6px;background:#8590a2;border-radius:1.2px;"></div>
<div style="left:1550px;top:326.48px;width:145.4px;height:4.6px;background:#efeff2;border-radius:1px;"></div>
<div style="left:1550px;top:333.9px;width:145.4px;height:4.6px;background:#efeff2;border-radius:1px;"></div>
<div style="left:1550px;top:341.32px;width:145.4px;height:4.6px;background:#efeff2;border-radius:1px;"></div>
<div class="card" style="left:595.4px;top:375.9px;width:171.6px;height:212px;"></div>
<div class="t" style="left:608.7px;top:390.27px;font-size:14.8px;line-height:19px;color:#1c1c1e;letter-spacing:0.08px;-webkit-text-stroke:0.55px currentColor;">Temperature</div>
<div class="t" style="left:608.7px;top:411.17px;font-size:12.5px;line-height:16px;color:#9a9aa2;transform-origin:0 50%;transform:scaleX(0.927);">°C</div>
<div class="t" style="left:608.7px;top:439.81px;font-size:30px;line-height:39px;color:#0c0c0c;letter-spacing:-0.02px;-webkit-text-stroke:0.85px currentColor;">38.6</div>
<div class="t" style="left:608.7px;top:478.17px;font-size:12.5px;line-height:16px;color:#8a8a92;-webkit-text-stroke:0.2px currentColor;transform-origin:0 50%;transform:scaleX(1.027);">56 min ago</div>
<div style="left:675px;top:452.9px;width:17.8px;height:16.6px;background:#8590a2;border-radius:3.5px;"></div>
<div class="t" style="left:683.9px;top:454.34px;font-size:10.5px;line-height:14px;font-weight:700;color:#fff;transform:translateX(-50%);">H</div>
<svg style="left:701.4px;top:452.9px" width="17.6" height="17" viewBox="0 0 17.6 17" fill="none" stroke="#111" stroke-width="2.7" stroke-linecap="square" stroke-linejoin="miter"><path d="M1.35 15.65 L15.95 1.65 M6.34 1.35 H16.25 V10.88"/></svg>
<div style="left:608.7px;top:525.1px;width:145.4px;height:4.6px;background:#efeff2;border-radius:1px;"></div>
<div style="left:731.9px;top:525.1px;width:22.2px;height:4.6px;background:#ff2d55;border-radius:1.2px;"></div>
<div style="left:608.7px;top:532.52px;width:145.4px;height:4.6px;background:#efeff2;border-radius:1px;"></div>
<div style="left:608.7px;top:539.94px;width:145.4px;height:4.6px;background:#efeff2;border-radius:1px;"></div>
<div style="left:608.7px;top:547.36px;width:145.4px;height:4.6px;background:#efeff2;border-radius:1px;"></div>
<div style="left:608.7px;top:547.36px;width:22.2px;height:4.6px;background:#8590a2;border-radius:1.2px;"></div>
<div style="left:633.34px;top:547.36px;width:22.2px;height:4.6px;background:#8590a2;border-radius:1.2px;"></div>
<div style="left:657.98px;top:547.36px;width:22.2px;height:4.6px;background:#8590a2;border-radius:1.2px;"></div>
<div style="left:682.62px;top:547.36px;width:22.2px;height:4.6px;background:#8590a2;border-radius:1.2px;"></div>
<div style="left:707.26px;top:547.36px;width:22.2px;height:4.6px;background:#8590a2;border-radius:1.2px;"></div>
<div style="left:608.7px;top:554.78px;width:145.4px;height:4.6px;background:#efeff2;border-radius:1px;"></div>
<div style="left:608.7px;top:562.2px;width:145.4px;height:4.6px;background:#efeff2;border-radius:1px;"></div>
<div style="left:608.7px;top:569.62px;width:145.4px;height:4.6px;background:#efeff2;border-radius:1px;"></div>
<div class="card" style="left:783.66px;top:375.9px;width:171.6px;height:212px;"></div>
<div class="t" style="left:796.96px;top:390.27px;font-size:14.8px;line-height:19px;color:#1c1c1e;letter-spacing:-0.1px;-webkit-text-stroke:0.55px currentColor;">Consciousness</div>
<div class="t" style="left:796.96px;top:411.17px;font-size:12.5px;line-height:16px;color:#9a9aa2;letter-spacing:-0.02px;">ACVPU</div>
<div class="t" style="left:796.96px;top:442.04px;font-size:25px;line-height:32px;color:#0c0c0c;-webkit-text-stroke:0.85px currentColor;transform-origin:0 50%;transform:scaleX(1.103);">Alert</div>
<div class="t" style="left:796.96px;top:476.97px;font-size:12.5px;line-height:16px;color:#8a8a92;-webkit-text-stroke:0.2px currentColor;transform-origin:0 50%;transform:scaleX(1.03);">1 h 8 min ago</div>
<div style="left:796.96px;top:525.1px;width:145.4px;height:4.6px;background:#efeff2;border-radius:1px;"></div>
<div style="left:796.96px;top:532.52px;width:145.4px;height:4.6px;background:#efeff2;border-radius:1px;"></div>
<div style="left:796.96px;top:539.94px;width:145.4px;height:4.6px;background:#efeff2;border-radius:1px;"></div>
<div style="left:796.96px;top:547.36px;width:145.4px;height:4.6px;background:#efeff2;border-radius:1px;"></div>
<div style="left:796.96px;top:547.36px;width:22.2px;height:4.6px;background:#8590a2;border-radius:1.2px;"></div>
<div style="left:821.6px;top:547.36px;width:22.2px;height:4.6px;background:#8590a2;border-radius:1.2px;"></div>
<div style="left:846.24px;top:547.36px;width:22.2px;height:4.6px;background:#8590a2;border-radius:1.2px;"></div>
<div style="left:870.88px;top:547.36px;width:22.2px;height:4.6px;background:#8590a2;border-radius:1.2px;"></div>
<div style="left:895.52px;top:547.36px;width:22.2px;height:4.6px;background:#8590a2;border-radius:1.2px;"></div>
<div style="left:920.16px;top:547.36px;width:22.2px;height:4.6px;background:#8590a2;border-radius:1.2px;"></div>
<div style="left:796.96px;top:554.78px;width:145.4px;height:4.6px;background:#efeff2;border-radius:1px;"></div>
<div style="left:796.96px;top:562.2px;width:145.4px;height:4.6px;background:#efeff2;border-radius:1px;"></div>
<div style="left:796.96px;top:569.62px;width:145.4px;height:4.6px;background:#efeff2;border-radius:1px;"></div>
<div class="card" style="left:971.92px;top:375.9px;width:171.6px;height:212px;"></div>
<div class="t" style="left:985.22px;top:390.27px;font-size:14.8px;line-height:19px;color:#1c1c1e;-webkit-text-stroke:0.55px currentColor;transform-origin:0 50%;transform:scaleX(0.967);">Glucose POC</div>
<div class="t" style="left:985.22px;top:411.17px;font-size:12.5px;line-height:16px;color:#9a9aa2;transform-origin:0 50%;transform:scaleX(1.1);">mmol/l</div>
<div class="t" style="left:985.22px;top:440.4px;font-size:30px;line-height:39px;color:#0c0c0c;letter-spacing:-0.1px;-webkit-text-stroke:0.85px currentColor;">10.2</div>
<div class="t" style="left:985.22px;top:478.17px;font-size:12.5px;line-height:16px;color:#8a8a92;letter-spacing:0.04px;-webkit-text-stroke:0.2px currentColor;">1 d 22 h ago</div>
<svg style="left:1049.92px;top:453.4px" width="17" height="16.4" viewBox="0 0 17 16.4" fill="none" stroke="#111" stroke-width="2.7" stroke-linecap="square" stroke-linejoin="miter"><path d="M1.35 1.35 L15.35 14.75 M6.12 15.05 H15.65 V5.9"/></svg>
<svg style="left:971.92px;top:375.9px" width="172" height="212" viewBox="0 0 172 212"><path d="M27.5 156.5 L50 185 L148.5 194.5" fill="none" stroke="#e2e2e6" stroke-width="1.1" stroke-dasharray="2.5 3"/><g fill="#9b9b9b"><circle cx="27.5" cy="156.5" r="4.2"/><circle cx="50" cy="185" r="4.2"/><circle cx="148.5" cy="194.5" r="4.2"/></g></svg>
<div class="card" style="left:1161.38px;top:375.9px;width:171.6px;height:212px;"></div>
<div class="t" style="left:1174.68px;top:390.27px;font-size:14.8px;line-height:19px;color:#1c1c1e;-webkit-text-stroke:0.55px currentColor;transform-origin:0 50%;transform:scaleX(1.037);">Weight</div>
<div class="t" style="left:1174.68px;top:411.17px;font-size:12.5px;line-height:16px;color:#9a9aa2;transform-origin:0 50%;transform:scaleX(0.985);">kg</div>
<div class="t" style="left:1174.68px;top:440px;font-size:30px;line-height:39px;color:#0c0c0c;letter-spacing:0.03px;-webkit-text-stroke:0.85px currentColor;">62.3</div>
<div class="t" style="left:1174.68px;top:477.17px;font-size:12.5px;line-height:16px;color:#8a8a92;letter-spacing:0.04px;-webkit-text-stroke:0.2px currentColor;">1 d 22 h ago</div>
<svg style="left:1161.38px;top:375.9px" width="172" height="212" viewBox="0 0 172 212"><path d="M24 180.5 L149.5 152 M24 166 H149.5" fill="none" stroke="#e4e4e8" stroke-width="1.1" stroke-dasharray="2.5 3"/><g fill="#9b9b9b"><circle cx="24" cy="180.5" r="4.2"/><circle cx="149.5" cy="152" r="4.2"/></g></svg>
<div class="card" style="left:595.3px;top:604.2px;width:359.7px;height:697px;"></div>
<div class="t" style="left:608.8px;top:618.67px;font-size:14.8px;line-height:19px;color:#1c1c1e;-webkit-text-stroke:0.55px currentColor;transform-origin:0 50%;transform:scaleX(0.953);">Assessments and Care Plans</div>
<div style="left:608.8px;top:738.6px;width:333px;height:1.3px;background:#e6ebf1;"></div>
<div style="left:608.8px;top:809.4px;width:333px;height:1.3px;background:#e6ebf1;"></div>
<div style="left:608.8px;top:882.4px;width:333px;height:1.3px;background:#e6ebf1;"></div>
<div style="left:608.8px;top:949.1px;width:333px;height:1.3px;background:#e6ebf1;"></div>
<div style="left:608.8px;top:1015.8px;width:333px;height:1.3px;background:#e6ebf1;"></div>
<div style="left:608.8px;top:1082.2px;width:333px;height:1.3px;background:#e6ebf1;"></div>
<div style="left:608.8px;top:1150.1px;width:333px;height:1.3px;background:#e6ebf1;"></div>
<div style="left:608.8px;top:1221.4px;width:333px;height:1.3px;background:#e6ebf1;"></div>
<div class="t" style="left:608.8px;top:689px;font-size:15px;line-height:20px;font-weight:700;color:#151515;letter-spacing:-0.12px;">Weight</div>
<div class="t" style="left:609.7px;top:710.17px;font-size:12.5px;line-height:16px;color:#a0a0a8;transform-origin:0 50%;transform:scaleX(0.969);">kg</div>
<div class="t" style="left:717.8px;top:688.46px;font-size:16px;line-height:21px;font-weight:700;transform-origin:0 50%;transform:scaleX(1.092);">62.3</div>
<div class="t" style="left:717.8px;top:710.17px;font-size:12.5px;line-height:16px;color:#8a8a92;letter-spacing:-0.05px;-webkit-text-stroke:0.2px currentColor;">1 d 2 h ago</div>
<div class="t" style="left:608.8px;top:756.1px;font-size:15px;line-height:20px;font-weight:700;color:#151515;letter-spacing:-0.03px;">BMI</div>
<div class="t" style="left:611.7px;top:777.67px;font-size:12.5px;line-height:16px;color:#a0a0a8;transform-origin:0 50%;transform:scaleX(1.066);">kg/m2</div>
<div class="t" style="left:715.8px;top:755.46px;font-size:16px;line-height:21px;font-weight:700;transform-origin:0 50%;transform:scaleX(1.082);">23.3</div>
<div class="t" style="left:715.8px;top:777.67px;font-size:12.5px;line-height:16px;color:#8a8a92;letter-spacing:-0.05px;-webkit-text-stroke:0.2px currentColor;">1 d 2 h ago</div>
<div class="t" style="left:608.8px;top:829.3px;font-size:15px;line-height:20px;font-weight:700;color:#151515;transform-origin:0 50%;transform:scaleX(0.904);">Fluid balance</div>
<div class="t" style="left:608.8px;top:850.3px;font-size:15px;line-height:20px;font-weight:700;color:#151515;transform-origin:0 50%;transform:scaleX(0.919);">chart</div>
<div class="t" style="left:715.8px;top:829.16px;font-size:16px;line-height:21px;font-weight:700;transform-origin:0 50%;transform:scaleX(0.924);">Yes</div>
<div class="t" style="left:715.8px;top:851.37px;font-size:12.5px;line-height:16px;color:#8a8a92;letter-spacing:0.02px;-webkit-text-stroke:0.2px currentColor;">2 h 13 min ago</div>
<div class="t" style="left:608.8px;top:896px;font-size:15px;line-height:20px;font-weight:700;color:#151515;transform-origin:0 50%;transform:scaleX(0.896);">Pain</div>
<div style="left:715.5px;top:895.3px;width:26.3px;height:25px;background:#fff;border-radius:4.5px;border:2px solid #7e8ba0;"></div>
<div class="t" style="left:728.6px;top:898.1px;font-size:15px;line-height:20px;font-weight:700;transform:translateX(-50%);">0</div>
<svg style="left:750.3px;top:903.5px" width="9.6" height="8.8" viewBox="0 0 9.6 8.8" fill="none" stroke="#111" stroke-width="2.1" stroke-linecap="square" stroke-linejoin="miter"><path d="M1.05 1.05 L8.25 7.45 M3.46 7.75 H8.55 V3.17"/></svg>
<div style="left:767.8px;top:895.3px;width:54.2px;height:25px;background:#8590a2;border-radius:4.5px;"></div>
<div class="t" style="left:794.9px;top:898px;font-size:15px;line-height:20px;font-weight:700;color:#fff;transform:translateX(-50%) scaleX(0.933);">Low</div>
<div class="t" style="left:715.8px;top:926.37px;font-size:12.5px;line-height:16px;color:#8a8a92;letter-spacing:0.02px;-webkit-text-stroke:0.2px currentColor;">2 h 13 min ago</div>
<div style="left:877.9px;top:893.4px;width:64px;height:10px;background:#efeff2;border-radius:2px;"></div>
<div style="left:877.9px;top:906.2px;width:64px;height:10px;background:#efeff2;border-radius:2px;"></div>
<div style="left:877.9px;top:906.2px;width:10px;height:10px;background:#ff8a00;border-radius:2.2px;"></div>
<div style="left:910.3px;top:906.2px;width:10px;height:10px;background:#ff8a00;border-radius:2.2px;"></div>
<div style="left:877.9px;top:919px;width:64px;height:10px;background:#efeff2;border-radius:2px;"></div>
<div style="left:899.5px;top:919px;width:10px;height:10px;background:#ffc800;border-radius:2.2px;"></div>
<div style="left:921.1px;top:919px;width:10px;height:10px;background:#ffc800;border-radius:2.2px;"></div>
<div style="left:877.9px;top:931.8px;width:64px;height:10px;background:#efeff2;border-radius:2px;"></div>
<div style="left:888.7px;top:931.8px;width:10px;height:10px;background:#d0d0da;border-radius:2.2px;"></div>
<div style="left:931.9px;top:931.8px;width:10px;height:10px;background:#d0d0da;border-radius:2.2px;"></div>
<div class="t" style="left:608.8px;top:962.6px;font-size:15px;line-height:20px;font-weight:700;color:#151515;transform-origin:0 50%;transform:scaleX(0.939);">VTE</div>
<div style="left:715.5px;top:962px;width:70.3px;height:25px;background:#ff2d55;border-radius:4.5px;"></div>
<div class="t" style="left:750.65px;top:964.7px;font-size:15px;line-height:20px;font-weight:700;color:#fff;transform:translateX(-50%) scaleX(0.917);">At risk</div>
<div class="t" style="left:715.8px;top:992.67px;font-size:12.5px;line-height:16px;color:#8a8a92;letter-spacing:0.02px;-webkit-text-stroke:0.2px currentColor;">2 h 13 min ago</div>
<div style="left:877.9px;top:982.2px;width:64px;height:10px;background:#efeff2;border-radius:2px;"></div>
<div style="left:931.9px;top:982.2px;width:10px;height:10px;background:#ff2d55;border-radius:2.2px;"></div>
<div style="left:877.9px;top:995px;width:64px;height:10px;background:#efeff2;border-radius:2px;"></div>
<div style="left:877.9px;top:995px;width:10px;height:10px;background:#d0d0da;border-radius:2.2px;"></div>
<div class="t" style="left:608.8px;top:1029.3px;font-size:15px;line-height:20px;font-weight:700;color:#151515;transform-origin:0 50%;transform:scaleX(0.976);">MUST</div>
<div style="left:715.5px;top:1028.4px;width:26.4px;height:25px;background:#ff2d55;border-radius:4.5px;"></div>
<div class="t" style="left:728.7px;top:1031.1px;font-size:15px;line-height:20px;font-weight:700;color:#fff;transform:translateX(-50%);">2</div>
<div style="left:746.4px;top:1028.4px;width:58px;height:25px;background:#ff2d55;border-radius:4.5px;"></div>
<div class="t" style="left:775.4px;top:1031.1px;font-size:15px;line-height:20px;font-weight:700;color:#fff;transform:translateX(-50%) scaleX(0.945);">High</div>
<div class="t" style="left:715.8px;top:1059.67px;font-size:12.5px;line-height:16px;color:#8a8a92;letter-spacing:0.02px;-webkit-text-stroke:0.2px currentColor;">2 h 13 min ago</div>
<div style="left:877.9px;top:1038.5px;width:64px;height:10px;background:#efeff2;border-radius:2px;"></div>
<div style="left:888.7px;top:1038.5px;width:10px;height:10px;background:#ff2d55;border-radius:2.2px;"></div>
<div style="left:877.9px;top:1051.3px;width:64px;height:10px;background:#efeff2;border-radius:2px;"></div>
<div style="left:877.9px;top:1051.3px;width:10px;height:10px;background:#ff8a00;border-radius:2.2px;"></div>
<div style="left:910.3px;top:1051.3px;width:10px;height:10px;background:#ff8a00;border-radius:2.2px;"></div>
<div style="left:877.9px;top:1064.1px;width:64px;height:10px;background:#efeff2;border-radius:2px;"></div>
<div style="left:899.5px;top:1064.1px;width:10px;height:10px;background:#d0d0da;border-radius:2.2px;"></div>
<div class="t" style="left:608.8px;top:1095.8px;font-size:15px;line-height:20px;font-weight:700;color:#151515;letter-spacing:-0.02px;">Waterlow</div>
<div style="left:715.5px;top:1095.2px;width:26.3px;height:25px;background:#fff;border-radius:4.5px;border:2px solid #7e8ba0;"></div>
<div class="t" style="left:728.6px;top:1098px;font-size:15px;line-height:20px;font-weight:700;transform:translateX(-50%);">0</div>
<svg style="left:750.3px;top:1103.4px" width="9.6" height="8.8" viewBox="0 0 9.6 8.8" fill="none" stroke="#111" stroke-width="2.1" stroke-linecap="square" stroke-linejoin="miter"><path d="M1.05 1.05 L8.25 7.45 M3.46 7.75 H8.55 V3.17"/></svg>
<div style="left:767.6px;top:1095.2px;width:54.6px;height:24.8px;background:#8590a2;border-radius:4.5px;"></div>
<div class="t" style="left:794.9px;top:1097.8px;font-size:15px;line-height:20px;font-weight:700;color:#fff;transform:translateX(-50%) scaleX(0.933);">Low</div>
<div class="t" style="left:715.8px;top:1126.47px;font-size:12.5px;line-height:16px;color:#8a8a92;letter-spacing:0.02px;-webkit-text-stroke:0.2px currentColor;">2 h 13 min ago</div>
<div style="left:877.9px;top:1092.6px;width:64px;height:10px;background:#efeff2;border-radius:2px;"></div>
<div style="left:877.9px;top:1105.4px;width:64px;height:10px;background:#efeff2;border-radius:2px;"></div>
<div style="left:877.9px;top:1105.4px;width:10px;height:10px;background:#ff8a00;border-radius:2.2px;"></div>
<div style="left:910.3px;top:1105.4px;width:10px;height:10px;background:#ff8a00;border-radius:2.2px;"></div>
<div style="left:877.9px;top:1118.2px;width:64px;height:10px;background:#efeff2;border-radius:2px;"></div>
<div style="left:899.5px;top:1118.2px;width:10px;height:10px;background:#ffc800;border-radius:2.2px;"></div>
<div style="left:877.9px;top:1131px;width:64px;height:10px;background:#efeff2;border-radius:2px;"></div>
<div style="left:888.7px;top:1131px;width:10px;height:10px;background:#d0d0da;border-radius:2.2px;"></div>
<div class="t" style="left:608.8px;top:1164px;font-size:15px;line-height:20px;font-weight:700;color:#151515;transform-origin:0 50%;transform:scaleX(0.956);">Moving &amp;</div>
<div class="t" style="left:608.8px;top:1184.3px;font-size:15px;line-height:20px;font-weight:700;color:#151515;transform-origin:0 50%;transform:scaleX(0.912);">handling</div>
<div style="left:715.5px;top:1163px;width:54.2px;height:24.8px;background:#8590a2;border-radius:4.5px;"></div>
<div class="t" style="left:742.6px;top:1165.6px;font-size:15px;line-height:20px;font-weight:700;color:#fff;transform:translateX(-50%) scaleX(0.933);">Low</div>
<div class="t" style="left:715.8px;top:1193.67px;font-size:12.5px;line-height:16px;color:#8a8a92;letter-spacing:0.02px;-webkit-text-stroke:0.2px currentColor;">2 h 13 min ago</div>
<div class="t" style="left:607.8px;top:1235.8px;font-size:15px;line-height:20px;font-weight:700;color:#151515;transform-origin:0 50%;transform:scaleX(0.876);">Falls risk</div>
<div style="left:714.1px;top:1234.7px;width:113.6px;height:24.8px;background:#ffd900;border-radius:4.5px;"></div>
<div class="t" style="left:770.9px;top:1237.3px;font-size:15px;line-height:20px;font-weight:700;transform:translateX(-50%) scaleX(0.923);">Likely Faller</div>
<div class="t" style="left:714.7px;top:1265.87px;font-size:12.5px;line-height:16px;color:#8a8a92;letter-spacing:0.02px;-webkit-text-stroke:0.2px currentColor;">2 h 13 min ago</div>
<div class="card" style="left:970.4px;top:603.8px;width:359.8px;height:441.8px;"></div>
<div class="t" style="left:984.2px;top:618.37px;font-size:14.8px;line-height:19px;color:#1c1c1e;-webkit-text-stroke:0.55px currentColor;transform-origin:0 50%;transform:scaleX(0.967);">Lab results</div>
<svg style="left:983.6px;top:644px" width="17" height="16" viewBox="0 0 17 16"><path d="M8.5 2 L15.6 14 H1.4 Z" fill="#ff2d55" stroke="#ff2d55" stroke-width="1.6" stroke-linejoin="round"/><path d="M8.5 5.8 V9.6" stroke="#fff" stroke-width="1.9" stroke-linecap="round"/><circle cx="8.5" cy="12.2" r="1.1" fill="#fff"/></svg>
<div class="t" style="left:1005.5px;top:642.3px;font-size:15px;line-height:20px;font-weight:700;color:#151515;transform-origin:0 50%;transform:scaleX(0.936);">6 out of range</div>
<div style="left:984.2px;top:686.1px;width:333.4px;height:1.3px;background:#e6ebf1;"></div>
<div style="left:984.2px;top:757.2px;width:333.4px;height:1.3px;background:#e6ebf1;"></div>
<div style="left:984.2px;top:828.9px;width:333.4px;height:1.3px;background:#e6ebf1;"></div>
<div style="left:984.2px;top:900.7px;width:333.4px;height:1.3px;background:#e6ebf1;"></div>
<div style="left:984.2px;top:972.8px;width:333.4px;height:1.3px;background:#e6ebf1;"></div>
<div class="t" style="left:984.2px;top:704px;font-size:15px;line-height:20px;font-weight:700;color:#151515;transform-origin:0 50%;transform:scaleX(0.906);">Glucose</div>
<div class="t" style="left:984.2px;top:725.67px;font-size:12.5px;line-height:16px;color:#a0a0a8;transform-origin:0 50%;transform:scaleX(1.073);">mmol/l</div>
<div class="t" style="left:1091.5px;top:703.48px;font-size:16.5px;line-height:21px;color:#ff2d55;letter-spacing:0.09px;">10.5</div>
<div style="left:1130px;top:705.3px;width:18.2px;height:15.8px;background:#8590a2;border-radius:3.5px;"></div>
<div class="t" style="left:1139.1px;top:706.84px;font-size:10px;line-height:13px;font-weight:700;color:#fff;transform:translateX(-50%);">H</div>
<svg style="left:1156.7px;top:709.2px" width="9.6" height="8.8" viewBox="0 0 9.6 8.8" fill="none" stroke="#111" stroke-width="2.1" stroke-linecap="square" stroke-linejoin="miter"><path d="M1.05 7.75 L8.25 1.35 M3.46 1.05 H8.55 V5.63"/></svg>
<div class="t" style="left:1091.2px;top:725.67px;font-size:12.5px;line-height:16px;color:#8a8a92;-webkit-text-stroke:0.2px currentColor;transform-origin:0 50%;transform:scaleX(0.971);">3 d ago</div>
<div class="t" style="left:984.2px;top:776.1px;font-size:15px;line-height:20px;font-weight:700;color:#151515;transform-origin:0 50%;transform:scaleX(0.903);">CRP</div>
<div class="t" style="left:984.2px;top:797.67px;font-size:12.5px;line-height:16px;color:#a0a0a8;transform-origin:0 50%;transform:scaleX(1.059);">µmol/L</div>
<div class="t" style="left:1091.5px;top:775.58px;font-size:16.5px;line-height:21px;color:#ff2d55;letter-spacing:-0.03px;">26</div>
<div style="left:1116.3px;top:777.4px;width:18.2px;height:15.8px;background:#8590a2;border-radius:3.5px;"></div>
<div class="t" style="left:1125.4px;top:778.93px;font-size:10px;line-height:13px;font-weight:700;color:#fff;transform:translateX(-50%);">H</div>
<svg style="left:1143px;top:781.3px" width="9.6" height="8.8" viewBox="0 0 9.6 8.8" fill="none" stroke="#111" stroke-width="2.1" stroke-linecap="square" stroke-linejoin="miter"><path d="M1.05 1.05 L8.25 7.45 M3.46 7.75 H8.55 V3.17"/></svg>
<div class="t" style="left:1091.2px;top:797.67px;font-size:12.5px;line-height:16px;color:#8a8a92;-webkit-text-stroke:0.2px currentColor;transform-origin:0 50%;transform:scaleX(0.971);">3 d ago</div>
<div class="t" style="left:984.2px;top:847.8px;font-size:15px;line-height:20px;font-weight:700;color:#151515;transform-origin:0 50%;transform:scaleX(0.906);">aPPT</div>
<div class="t" style="left:984.2px;top:869.17px;font-size:12.5px;line-height:16px;color:#a0a0a8;transform-origin:0 50%;transform:scaleX(0.88);">s</div>
<div class="t" style="left:1091.5px;top:847.28px;font-size:16.5px;line-height:21px;color:#ff2d55;letter-spacing:0.12px;">25</div>
<div style="left:1116.3px;top:849.1px;width:18.2px;height:15.8px;background:#8590a2;border-radius:3.5px;"></div>
<div class="t" style="left:1125.4px;top:850.63px;font-size:10px;line-height:13px;font-weight:700;color:#fff;transform:translateX(-50%);">H</div>
<svg style="left:1142.7px;top:853px" width="9.6" height="8.8" viewBox="0 0 9.6 8.8" fill="none" stroke="#111" stroke-width="2.1" stroke-linecap="square" stroke-linejoin="miter"><path d="M1.05 7.75 L8.25 1.35 M3.46 1.05 H8.55 V5.63"/></svg>
<div class="t" style="left:1091.2px;top:869.17px;font-size:12.5px;line-height:16px;color:#8a8a92;-webkit-text-stroke:0.2px currentColor;transform-origin:0 50%;transform:scaleX(0.971);">3 d ago</div>
<div class="t" style="left:984.2px;top:919.3px;font-size:15px;line-height:20px;font-weight:700;color:#151515;transform-origin:0 50%;transform:scaleX(0.967);">INR</div>
<div class="t" style="left:1091.5px;top:918.78px;font-size:16.5px;line-height:21px;color:#ff2d55;letter-spacing:-0.05px;">2.5</div>
<div style="left:1116.3px;top:920.6px;width:18.2px;height:15.8px;background:#8590a2;border-radius:3.5px;"></div>
<div class="t" style="left:1125.4px;top:922.13px;font-size:10px;line-height:13px;font-weight:700;color:#fff;transform:translateX(-50%);">H</div>
<svg style="left:1142.7px;top:924.5px" width="9.6" height="8.8" viewBox="0 0 9.6 8.8" fill="none" stroke="#111" stroke-width="2.1" stroke-linecap="square" stroke-linejoin="miter"><path d="M1.05 7.75 L8.25 1.35 M3.46 1.05 H8.55 V5.63"/></svg>
<div class="t" style="left:1091.2px;top:940.67px;font-size:12.5px;line-height:16px;color:#8a8a92;-webkit-text-stroke:0.2px currentColor;transform-origin:0 50%;transform:scaleX(0.971);">3 d ago</div>
<div class="t" style="left:984.2px;top:991.6px;font-size:15px;line-height:20px;font-weight:700;color:#151515;transform-origin:0 50%;transform:scaleX(0.941);">Creatinine</div>
<div class="t" style="left:984.2px;top:1013.67px;font-size:12.5px;line-height:16px;color:#a0a0a8;transform-origin:0 50%;transform:scaleX(1.059);">µmol/L</div>
<div class="t" style="left:1091.5px;top:991.08px;font-size:16.5px;line-height:21px;color:#ff2d55;transform-origin:0 50%;transform:scaleX(1.027);">3.39</div>
<div style="left:1130.3px;top:992.9px;width:15px;height:15.8px;background:#8590a2;border-radius:3.5px;"></div>
<div class="t" style="left:1137.8px;top:994.43px;font-size:10px;line-height:13px;font-weight:700;color:#fff;transform:translateX(-50%);">H</div>
<svg style="left:1153.6px;top:996.8px" width="9.6" height="8.8" viewBox="0 0 9.6 8.8" fill="none" stroke="#111" stroke-width="2.1" stroke-linecap="square" stroke-linejoin="miter"><path d="M1.05 7.75 L8.25 1.35 M3.46 1.05 H8.55 V5.63"/></svg>
<div class="t" style="left:1091.2px;top:1013.67px;font-size:12.5px;line-height:16px;color:#8a8a92;letter-spacing:0.02px;-webkit-text-stroke:0.2px currentColor;">1 h 22 min ago</div>
<div style="left:1268.4px;top:716.4px;width:8px;height:8px;background:#ff2d55;border-radius:4px;"></div>
<div style="left:1293.2px;top:709px;width:8px;height:8px;background:#ff2d55;border-radius:4px;"></div>
<div style="left:1253px;top:735px;width:64px;height:12.4px;background:#eeeef1;border-radius:2.5px;"></div>
<div style="left:1253px;top:796.5px;width:64px;height:6px;background:#eeeef1;border-radius:2.5px;"></div>
<svg style="left:1250px;top:762px" width="70" height="62" viewBox="0 0 70 62"><path d="M15.5 13.5 L53.5 47.5" stroke="#555a66" stroke-width="1.2" stroke-dasharray="2.6 2.2" fill="none"/><path d="M12.9 5.4 L17.9 14.4 H7.9 Z" fill="#ff2d55"/><path d="M56.4 56 L61.6 46.2 H51.2 Z" fill="#ff2d55"/></svg>
<div style="left:1253.6px;top:838.7px;width:8px;height:8px;background:#ff2d55;border-radius:4px;"></div>
<div style="left:1306.7px;top:852.4px;width:8px;height:8px;background:#ff2d55;border-radius:4px;"></div>
<div style="left:1253px;top:868.8px;width:64px;height:22px;background:#eeeef1;border-radius:2.5px;"></div>
<div style="left:1285.3px;top:874.2px;width:8px;height:8px;background:#d0d0da;border-radius:4px;"></div>
<div style="left:1253.6px;top:910.5px;width:8px;height:8px;background:#ff2d55;border-radius:4px;"></div>
<div style="left:1306.7px;top:924.2px;width:8px;height:8px;background:#ff2d55;border-radius:4px;"></div>
<div style="left:1253px;top:940.6px;width:64px;height:22px;background:#eeeef1;border-radius:2.5px;"></div>
<div style="left:1285.3px;top:945.5px;width:8px;height:8px;background:#d0d0da;border-radius:4px;"></div>
<div style="left:1253px;top:982.5px;width:64px;height:12.4px;background:#eeeef1;border-radius:2.5px;"></div>
<div style="left:1269.4px;top:1013.3px;width:8px;height:8px;background:#ff2d55;border-radius:4px;"></div>
<div style="left:1294.3px;top:1006.2px;width:8px;height:8px;background:#ff2d55;border-radius:4px;"></div>
<div class="card" style="left:970.6px;top:1068.8px;width:359.6px;height:300px;"></div>
<div class="t" style="left:983.8px;top:1082.37px;font-size:14.8px;line-height:19px;color:#1c1c1e;letter-spacing:-0.02px;-webkit-text-stroke:0.55px currentColor;">Other Assessments and Care Plans</div>
<div class="t" style="left:983.8px;top:1145.3px;font-size:15px;line-height:20px;font-weight:700;color:#151515;transform-origin:0 50%;transform:scaleX(0.957);">Inpatient care and risk document</div>
<div class="t" style="left:983.8px;top:1166.87px;font-size:12.5px;line-height:16px;color:#8a8a92;letter-spacing:-0.02px;-webkit-text-stroke:0.2px currentColor;">4 days ago</div>
<svg style="left:1304.2px;top:1156.5px" width="10" height="14" viewBox="0 0 10 14" fill="none" stroke="#6b7a90" stroke-width="1.5" stroke-linecap="round" stroke-linejoin="round"><path d="M3 3.2 L7 7 L3 10.800"/></svg>
<div class="t" style="left:983.8px;top:1217.3px;font-size:15px;line-height:20px;font-weight:700;color:#151515;transform-origin:0 50%;transform:scaleX(0.944);">High impact risk assestment</div>
<div class="t" style="left:983.8px;top:1238.87px;font-size:12.5px;line-height:16px;color:#8a8a92;letter-spacing:-0.02px;-webkit-text-stroke:0.2px currentColor;">4 days ago</div>
<svg style="left:1304.2px;top:1228.5px" width="10" height="14" viewBox="0 0 10 14" fill="none" stroke="#6b7a90" stroke-width="1.5" stroke-linecap="round" stroke-linejoin="round"><path d="M3 3.2 L7 7 L3 10.800"/></svg>
<div class="t" style="left:983.8px;top:1288.8px;font-size:15px;line-height:20px;font-weight:700;color:#151515;transform-origin:0 50%;transform:scaleX(0.931);">Bed rails and low bed rails assessment</div>
<div class="t" style="left:983.8px;top:1310.37px;font-size:12.5px;line-height:16px;color:#8a8a92;letter-spacing:-0.02px;-webkit-text-stroke:0.2px currentColor;">4 days ago</div>
<svg style="left:1304.2px;top:1300px" width="10" height="14" viewBox="0 0 10 14" fill="none" stroke="#6b7a90" stroke-width="1.5" stroke-linecap="round" stroke-linejoin="round"><path d="M3 3.2 L7 7 L3 10.800"/></svg>
<div style="left:983.8px;top:1198.1px;width:333.6px;height:1.3px;background:#e6ebf1;"></div>
<div style="left:983.8px;top:1270.2px;width:333.6px;height:1.3px;background:#e6ebf1;"></div>
<div class="card" style="left:1350.4px;top:376.3px;width:359.6px;height:1000px;"></div>
<div style="left:1697.4px;top:377px;width:12.4px;height:999px;background:#f5f5f8;border-radius:0 7px 0 0;"></div>
<div style="left:1698px;top:381px;width:6px;height:63px;background:#7f8999;border-radius:3px;"></div>
<div class="t" style="left:1362.8px;top:390.37px;font-size:14.8px;line-height:19px;color:#1c1c1e;-webkit-text-stroke:0.55px currentColor;transform-origin:0 50%;transform:scaleX(1.027);">Active prescription list</div>
<div class="t" style="left:1362.8px;top:438.35px;font-size:14px;line-height:18px;color:#63636d;letter-spacing:0.66px;">ANTIMICROBIALS</div>
<div style="left:1363.6px;top:461.1px;width:333.4px;height:1.3px;background:#e6ebf1;"></div>
<div class="t" style="left:1363.6px;top:474.8px;font-size:15px;line-height:20px;font-weight:700;color:#151515;transform-origin:0 50%;transform:scaleX(0.978);">Co-amoxiclav 500mg/125 mg tablets</div>
<svg style="left:1620.6px;top:476px" width="15.4" height="15" viewBox="0 0 15.4 15"><path d="M7.7 .9 C9.4 2 11.6 2.5 14 2.4 C14.3 7.6 12.4 11.6 7.7 14 C3 11.6 1.100 7.600 1.4 2.4 C3.8 2.5 6 2 7.7 .9 Z" fill="#1b76f0"/><path d="M7.7 4.300 V9.9 M4.9 7.1 H10.5" stroke="#fff" stroke-width="2.2"/></svg>
<div class="t" style="left:1363.6px;top:494.8px;font-size:15px;line-height:20px;font-weight:700;color:#151515;transform-origin:0 50%;transform:scaleX(0.958);">2 tablets</div>
<div class="t" style="left:1421.9px;top:494.8px;font-size:15px;line-height:20px;color:#1a1a1a;letter-spacing:0.08px;-webkit-text-stroke:0.22px currentColor;white-space:pre;"> <b>·</b> Oral <b>·</b> Every 12 h</div>
<div style="left:1556.2px;top:496.7px;width:45px;height:16.4px;background:#e0e5ea;border-radius:4px;"></div>
<div class="t" style="left:1578.7px;top:497.99px;font-size:11px;line-height:14px;font-weight:700;color:#1a1a1a;transform:translateX(-50%) scaleX(0.926);">Day 6</div>
<div style="left:1363.6px;top:526.4px;width:333.4px;height:1.3px;background:#e6ebf1;"></div>
<div class="t" style="left:1363.6px;top:553.65px;font-size:14px;line-height:18px;color:#63636d;letter-spacing:0.69px;">ANTICOAGULANTS</div>
<div style="left:1363.6px;top:576.1px;width:333.4px;height:1.3px;background:#e6ebf1;"></div>
<div class="t" style="left:1363.6px;top:587.8px;font-size:15px;line-height:20px;font-weight:700;color:#151515;transform-origin:0 50%;transform:scaleX(0.967);">Heparin</div>
<div class="t" style="left:1363.6px;top:609.6px;font-size:15px;line-height:20px;color:#1a1a1a;letter-spacing:0.06px;-webkit-text-stroke:0.22px currentColor;">+ Sodium chloride 0.9% infusion 500ml bags <b>·</b></div>
<div class="t" style="left:1363.6px;top:630.2px;font-size:15px;line-height:20px;color:#1a1a1a;letter-spacing:0.09px;-webkit-text-stroke:0.22px currentColor;">1000 mL</div>
<div class="t" style="left:1363.6px;top:651.6px;font-size:15px;line-height:20px;font-weight:700;color:#151515;letter-spacing:0.1px;">15 units/kg/h · 22.5 mL/h</div>
<div class="t" style="left:1540.3px;top:651.6px;font-size:15px;line-height:20px;color:#1a1a1a;-webkit-text-stroke:0.22px currentColor;transform-origin:0 50%;transform:scaleX(1.016);white-space:pre;">  <b>·</b> IV <b>·</b> Continuous</div>
<div class="t" style="left:1363.6px;top:668.5px;font-size:15px;line-height:20px;color:#1a1a1a;letter-spacing:0.09px;-webkit-text-stroke:0.22px currentColor;">infusion <b>·</b> 1x per day</div>
<svg style="left:1508px;top:672.4px" width="15" height="14.5" viewBox="0 0 15 14.5"><path d="M2.6 .8 H12.4 Q14.2 .8 14.2 2.600 V8.4 Q14.2 10.2 12.4 10.2 H8 L4.6 13.4 V10.2 H2.6 Q.8 10.2 .8 8.4 V2.600 Q.8 .8 2.6 .8 Z" fill="#111"/><path d="M4 4 H11 M4 6.6 H8.4" stroke="#fff" stroke-width="1.2"/></svg>
<div style="left:1363.6px;top:699.7px;width:333.4px;height:1.3px;background:#e6ebf1;"></div>
<div class="t" style="left:1363.6px;top:715.4px;font-size:15px;line-height:20px;font-weight:700;color:#151515;transform-origin:0 50%;transform:scaleX(0.976);">Heparin Sodium 5,000 units/5ml solution for</div>
<div class="t" style="left:1363.6px;top:735.4px;font-size:15px;line-height:20px;font-weight:700;color:#151515;transform-origin:0 50%;transform:scaleX(0.946);">injection ampoules</div>
<div class="t" style="left:1363.6px;top:755.5px;font-size:15px;line-height:20px;font-weight:700;color:#151515;transform-origin:0 50%;transform:scaleX(0.984);">2500 units</div>
<div class="t" style="left:1435.8px;top:755.5px;font-size:15px;line-height:20px;color:#1a1a1a;letter-spacing:0.04px;-webkit-text-stroke:0.22px currentColor;white-space:pre;"> <b>·</b> 2.5 mL/h <b>·</b> Bolus <b>·</b> IV <b>·</b> Stat</div>
<div style="left:1350.4px;top:787.3px;width:359.6px;height:86.5px;background:repeating-linear-gradient(135deg,#fff 0,#fff 3.1px,#e7e7eb 3.1px,#e7e7eb 4.4px);"></div>
<div style="left:1350.4px;top:787px;width:359.6px;height:1px;background:#e6eaef;"></div>
<div style="left:1363.6px;top:801px;width:62px;height:16.6px;background:#8590a2;border-radius:4px;"></div>
<div class="t" style="left:1394.6px;top:802.39px;font-size:11px;line-height:14px;font-weight:700;color:#fff;transform:translateX(-50%);">Stopped</div>
<div class="t" style="left:1363.6px;top:820.6px;font-size:15px;line-height:20px;font-weight:700;color:#151515;letter-spacing:-0.11px;">Warfarin</div>
<svg style="left:1431px;top:823px" width="12" height="16" viewBox="0 0 12 16"><path d="M3.300 .6 H8.700 V3 H3.300 Z M2.400 3.600 H9.600 Q11.400 3.600 11.400 5.400 V13.600 Q11.400 15.400 9.600 15.400 H2.400 Q.6 15.400 .6 13.600 V5.400 Q.6 3.600 2.400 3.600 Z" fill="#ff2d55"/><path d="M6 6.4 V10.200" stroke="#fff" stroke-width="1.7" stroke-linecap="round"/><circle cx="6" cy="12.800" r="1" fill="#fff"/></svg>
<div class="t" style="left:1363.6px;top:843.3px;font-size:15px;line-height:20px;font-weight:700;color:#151515;transform-origin:0 50%;transform:scaleX(0.955);">75 mg</div>
<div class="t" style="left:1405px;top:843.3px;font-size:15px;line-height:20px;color:#8d9aad;-webkit-text-stroke:0.22px currentColor;transform-origin:0 50%;transform:scaleX(1.017);white-space:pre;"> <b>·</b> Oral <b>·</b> 1x per day</div>
<div class="t" style="left:1362.8px;top:900.15px;font-size:14px;line-height:18px;color:#63636d;letter-spacing:0.04px;">REGULAR</div>
<div style="left:1363.6px;top:923.3px;width:333.4px;height:1.3px;background:#e6ebf1;"></div>
<div class="t" style="left:1363.6px;top:937.6px;font-size:15px;line-height:20px;font-weight:700;color:#151515;transform-origin:0 50%;transform:scaleX(0.917);">Bisoprolol</div>
<div class="t" style="left:1363.6px;top:957.6px;font-size:15px;line-height:20px;font-weight:700;color:#151515;transform-origin:0 50%;transform:scaleX(0.942);">5 mg</div>
<div class="t" style="left:1396.6px;top:957.6px;font-size:15px;line-height:20px;color:#1a1a1a;-webkit-text-stroke:0.22px currentColor;transform-origin:0 50%;transform:scaleX(1.015);white-space:pre;"> <b>·</b> Oral <b>·</b> 1x per day</div>
<div style="left:1363.6px;top:988.8px;width:333.4px;height:1.3px;background:#e6ebf1;"></div>
<div class="t" style="left:1363.6px;top:1003.6px;font-size:15px;line-height:20px;font-weight:700;color:#151515;transform-origin:0 50%;transform:scaleX(0.958);">Cordarone X 100 tablets (Sanofi)</div>
<div class="t" style="left:1363.6px;top:1023.2px;font-size:15px;line-height:20px;font-weight:700;color:#151515;transform-origin:0 50%;transform:scaleX(0.955);">50 mg</div>
<div class="t" style="left:1405px;top:1023.2px;font-size:15px;line-height:20px;color:#1a1a1a;-webkit-text-stroke:0.22px currentColor;transform-origin:0 50%;transform:scaleX(1.015);white-space:pre;"> <b>·</b> Oral <b>·</b> 1x per day</div>
<div style="left:1363.6px;top:1054.4px;width:333.4px;height:1.3px;background:#e6ebf1;"></div>
<div class="t" style="left:1363.6px;top:1068.7px;font-size:15px;line-height:20px;font-weight:700;color:#151515;transform-origin:0 50%;transform:scaleX(0.963);">Genotropin 12mg powder and solvent for</div>
<div class="t" style="left:1363.6px;top:1090.1px;font-size:15px;line-height:20px;font-weight:700;color:#151515;transform-origin:0 50%;transform:scaleX(0.949);">solution for injection cartridges (Pfizer Ltd)</div>
<div class="t" style="left:1363.6px;top:1110.2px;font-size:15px;line-height:20px;font-weight:700;color:#151515;transform-origin:0 50%;transform:scaleX(0.955);">30 mg</div>
<div class="t" style="left:1405px;top:1110.2px;font-size:15px;line-height:20px;color:#1a1a1a;-webkit-text-stroke:0.22px currentColor;transform-origin:0 50%;transform:scaleX(1.015);white-space:pre;"> <b>·</b> Oral <b>·</b> 1x per day</div>
<div style="left:1363.6px;top:1141.4px;width:333.4px;height:1.3px;background:#e6ebf1;"></div>
<div class="t" style="left:1363.6px;top:1155.7px;font-size:15px;line-height:20px;font-weight:700;color:#151515;transform-origin:0 50%;transform:scaleX(0.952);">Glurenorm 30mg tablets (Sanofi)</div>
<div class="t" style="left:1363.6px;top:1175.8px;font-size:15px;line-height:20px;font-weight:700;color:#151515;transform-origin:0 50%;transform:scaleX(0.955);">30 mg</div>
<div class="t" style="left:1405px;top:1175.8px;font-size:15px;line-height:20px;color:#1a1a1a;-webkit-text-stroke:0.22px currentColor;transform-origin:0 50%;transform:scaleX(1.015);white-space:pre;"> <b>·</b> Oral <b>·</b> 1x per day</div>
<div style="left:1363.6px;top:1207px;width:333.4px;height:1.3px;background:#e6ebf1;"></div>
<div class="t" style="left:1363.6px;top:1222.1px;font-size:15px;line-height:20px;font-weight:700;color:#151515;transform-origin:0 50%;transform:scaleX(0.946);">Levothyroxine</div>
<div class="t" style="left:1363.6px;top:1241.8px;font-size:15px;line-height:20px;font-weight:700;color:#151515;transform-origin:0 50%;transform:scaleX(0.959);">1000 micrograms</div>
<div class="t" style="left:1481.9px;top:1241.8px;font-size:15px;line-height:20px;color:#1a1a1a;letter-spacing:0.1px;-webkit-text-stroke:0.22px currentColor;white-space:pre;"> <b>·</b> Oral <b>·</b> Every morning</div>
<div style="left:1363.6px;top:1273.4px;width:333.4px;height:1.3px;background:#e6ebf1;"></div>
<div class="t" style="left:1363.6px;top:1287.7px;font-size:15px;line-height:20px;font-weight:700;color:#151515;transform-origin:0 50%;transform:scaleX(0.967);">Mogadon 5 mg tablets (Mylan)</div>
<div class="t" style="left:1363.6px;top:1307.4px;font-size:15px;line-height:20px;font-weight:700;color:#151515;transform-origin:0 50%;transform:scaleX(0.955);">10 mg</div>
<div class="t" style="left:1405px;top:1307.4px;font-size:15px;line-height:20px;color:#1a1a1a;letter-spacing:-0.06px;-webkit-text-stroke:0.22px currentColor;white-space:pre;"> <b>·</b> Oral <b>·</b> Every evening</div>
<svg style="left:1564.6px;top:1308.4px" width="17" height="17" viewBox="0 0 17 17" fill="none" stroke="#ff2d55" stroke-width="2"><circle cx="8.5" cy="8.5" r="7"/></svg>
</div></div>
</body></html>
